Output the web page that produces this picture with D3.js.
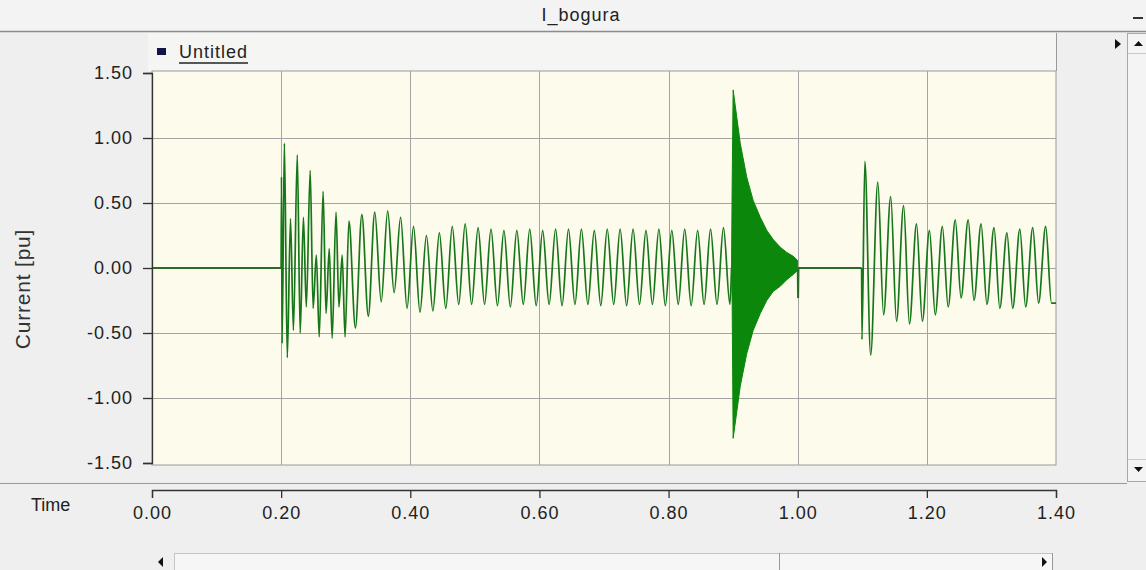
<!DOCTYPE html>
<html>
<head>
<meta charset="utf-8">
<script src="https://cdn.jsdelivr.net/npm/d3@7"></script>
<style>
  body { margin: 0; background: #f0f0f0; overflow: hidden; }
  svg { display: block; font-family: "Liberation Sans", Arial, sans-serif; }
</style>
</head>
<body>
<svg width="1146" height="570"></svg>
<script>
// texts
var chartTitle = 'I_bogura';
var seriesName = 'Untitled';
var yLabel = 'Current [pu]';
var xLabel = 'Time';
var xTicks = [0, 0.2, 0.4, 0.6, 0.8, 1.0, 1.2, 1.4];
var yTicks = [-1.5, -1.0, -0.5, 0, 0.5, 1.0, 1.5];

// 50 Hz cycles, one peak and one trough read per cycle
var cycle = 0.02;

// first fault at 0.2 s
var f1Start = 0.2;
var f1LeadT = [0.2005, 0.2015];
var f1Lead = [0.70, -0.58];
var f1FirstPeak = 0.205;
var f1Peaks = [0.96, 0.87, 0.75, 0.59, 0.43, 0.36, 0.41, 0.43, 0.44, 0.39,
  0.32, 0.25, 0.27, 0.32, 0.34, 0.31, 0.30, 0.29, 0.29, 0.30,
  0.29, 0.30, 0.30, 0.30, 0.29, 0.30, 0.30, 0.30, 0.29, 0.30,
  0.29, 0.30, 0.29, 0.30, 0.31];
var f1Troughs = [-0.48, -0.30, -0.53, -0.54, -0.53, -0.46, -0.37, -0.26, -0.19, -0.31,
  -0.34, -0.33, -0.31, -0.28, -0.28, -0.28, -0.29, -0.30, -0.28, -0.29,
  -0.28, -0.29, -0.28, -0.28, -0.29, -0.28, -0.29, -0.28, -0.28, -0.29,
  -0.28, -0.29, -0.28, -0.28, -0.28];
// extra dip + hump inside the first cycles (harmonic content)
var f1Dips = [-0.69, -0.50, -0.31, -0.35, -0.30];
var f1Humps = [0.38, 0.39, 0.10, 0.15, 0.10];

// dense burst 0.9 - 1.0 s (envelope)
var burstT = [0.8975, 0.8985, 0.900, 0.911, 0.921, 0.931, 0.942, 0.952, 0.962, 0.973, 0.983, 0.993, 0.9995];
var burstHi = [0.00, 0.66, 1.37, 0.96, 0.70, 0.52, 0.39, 0.29, 0.22, 0.16, 0.12, 0.09, 0.06];
var burstLo = [0.00, -0.28, -1.31, -0.91, -0.66, -0.48, -0.35, -0.25, -0.18, -0.14, -0.09, -0.05, -0.02];
var clearT = [1.0, 1.0006, 1.0012];
var clearI = [0, -0.23, 0];

// second fault at 1.1 s
var f2Start = 1.099;
var f2LeadT = [1.0995];
var f2Lead = [-0.55];
var f2FirstPeak = 1.104;
var f2Peaks = [0.82, 0.66, 0.55, 0.48, 0.34, 0.29, 0.32, 0.37, 0.37, 0.34, 0.31, 0.27, 0.30, 0.31, 0.32];
var f2Troughs = [-0.67, -0.36, -0.41, -0.43, -0.41, -0.36, -0.30, -0.23, -0.25, -0.28, -0.31, -0.31, -0.30, -0.27, -0.27];
var endT = 1.4;

var svg = d3.select('svg');
var W = 1146, H = 570;
var pLeft = 152, pRight = 1056, pTop = 71, pBottom = 465;

var x = d3.scaleLinear().domain([0, 1.4]).range([pLeft, pRight]);
var y = d3.scaleLinear().domain([-1.5, 1.5]).range([463, 73]);
var fmt = function (d) { return d.toFixed(2); };

// window chrome
svg.append('rect').attr('width', W).attr('height', H).attr('fill', '#efefef');
svg.append('rect').attr('width', W).attr('height', 31).attr('fill', '#f3f3f3');
svg.append('line').attr('x1', 0).attr('x2', W).attr('y1', 31.5).attr('y2', 31.5)
  .attr('stroke', '#8c8c8c').attr('stroke-width', 1.5);
svg.append('text').attr('x', 581).attr('y', 21).attr('text-anchor', 'middle')
  .attr('font-size', 18).attr('letter-spacing', 1).attr('fill', '#222').text(chartTitle);
svg.append('line').attr('x1', 1133).attr('x2', 1143).attr('y1', 18).attr('y2', 18)
  .attr('stroke', '#333').attr('stroke-width', 2);

// legend strip
svg.append('rect').attr('x', 148).attr('y', 33).attr('width', pRight - 148).attr('height', pTop - 33)
  .attr('fill', '#f5f5f4');
svg.append('line').attr('x1', pRight + 0.5).attr('x2', pRight + 0.5).attr('y1', 33).attr('y2', pTop)
  .attr('stroke', '#9a9a9a');
svg.append('rect').attr('x', 157).attr('y', 48).attr('width', 9).attr('height', 7).attr('fill', '#14144a');
svg.append('text').attr('x', 179).attr('y', 58).attr('font-size', 18).attr('letter-spacing', 1)
  .attr('fill', '#222').text(seriesName);
svg.append('line').attr('x1', 179).attr('x2', 248).attr('y1', 63).attr('y2', 63)
  .attr('stroke', '#222').attr('stroke-width', 1.5);

// right side controls
svg.append('path').attr('d', 'M1115,39 L1121,44 L1115,49 Z').attr('fill', '#111');
svg.append('rect').attr('x', 1127.5).attr('y', 33.5).attr('width', 20).attr('height', 448)
  .attr('fill', '#f4f4f4').attr('stroke', '#a8a8a8');
svg.append('line').attr('x1', 1128).attr('x2', 1146).attr('y1', 53.5).attr('y2', 53.5).attr('stroke', '#c8c8c8');
svg.append('line').attr('x1', 1128).attr('x2', 1146).attr('y1', 459.5).attr('y2', 459.5).attr('stroke', '#c8c8c8');
svg.append('path').attr('d', 'M1134,46 L1143,46 L1138.5,41 Z').attr('fill', '#111');
svg.append('path').attr('d', 'M1134,467 L1143,467 L1138.5,472 Z').attr('fill', '#111');

// plot area
svg.append('rect').attr('x', pLeft).attr('y', pTop).attr('width', pRight - pLeft).attr('height', pBottom - pTop)
  .attr('fill', '#fcfbec').attr('stroke', '#9a9a9a');

var grid = svg.append('g').attr('stroke', '#a4a4a4').attr('stroke-width', 1);
grid.selectAll('.gy').data(yTicks.slice(1, -1)).enter().append('line')
  .attr('x1', pLeft).attr('x2', pRight)
  .attr('y1', function (d) { return Math.round(y(d)) + 0.5; })
  .attr('y2', function (d) { return Math.round(y(d)) + 0.5; });
grid.selectAll('.gx').data(xTicks.slice(1, -1)).enter().append('line')
  .attr('y1', pTop).attr('y2', pBottom)
  .attr('x1', function (d) { return Math.round(x(d)) + 0.5; })
  .attr('x2', function (d) { return Math.round(x(d)) + 0.5; });

// series points (peaks and troughs only)
var wave1 = [[f1Start, 0]];
f1LeadT.forEach(function (t, i) { wave1.push([t, f1Lead[i]]); });
f1Peaks.forEach(function (p, k) {
  var t = f1FirstPeak + k * cycle;
  wave1.push([t, p]);
  if (k < f1Dips.length) {
    wave1.push([t + 0.0045, f1Dips[k]]);
    wave1.push([t + 0.0095, f1Humps[k]]);
    wave1.push([t + 0.014, f1Troughs[k]]);
  } else {
    wave1.push([t + cycle / 2, f1Troughs[k]]);
  }
});
wave1.push([burstT[0], 0]);

var wave2 = [[f2Start, 0]];
f2LeadT.forEach(function (t, i) { wave2.push([t, f2Lead[i]]); });
f2Peaks.forEach(function (p, k) {
  var t = f2FirstPeak + k * cycle;
  wave2.push([t, p]);
  wave2.push([t + cycle / 2 - 0.001, f2Troughs[k]]);
});
wave2.push([endT, f2Troughs[f2Troughs.length - 1]]);

var flat = [[[0, 0], [f1Start, 0]], [[burstT[burstT.length - 1], 0], [clearT[0], 0]]];
var clearPts = clearT.map(function (t, i) { return [t, clearI[i]]; });
clearPts.push([f2Start, 0]);

svg.append('clipPath').attr('id', 'clip').append('rect')
  .attr('x', pLeft).attr('y', pTop).attr('width', pRight - pLeft + 1).attr('height', pBottom - pTop);
var plot = svg.append('g').attr('clip-path', 'url(#clip)');

var line = d3.line().x(function (d) { return x(d[0]); }).y(function (d) { return y(d[1]); });
var smooth = d3.line().curve(d3.curveMonotoneX)
  .x(function (d) { return x(d[0]); }).y(function (d) { return y(d[1]); });
var area = d3.area()
  .x(function (d, i) { return x(burstT[i]); })
  .y0(function (d, i) { return y(burstLo[i]); })
  .y1(function (d, i) { return y(burstHi[i]); });

plot.selectAll('.flat').data(flat.concat([clearPts])).enter().append('path')
  .attr('d', line).attr('fill', 'none')
  .attr('stroke', '#2b6a2b').attr('stroke-width', 2);
plot.selectAll('.wave').data([wave1, wave2]).enter().append('path')
  .attr('d', smooth).attr('fill', 'none')
  .attr('stroke', '#17761a').attr('stroke-width', 1.7);
plot.append('path').datum(burstT).attr('d', area).attr('fill', '#0b870b')
  .attr('stroke', '#0b870b').attr('stroke-width', 1);

// axes
var yAxis = svg.append('g').attr('transform', 'translate(' + pLeft + ',0)')
  .call(d3.axisLeft(y).tickValues(yTicks).tickSize(9).tickPadding(10).tickFormat(fmt));
yAxis.selectAll('path, line').attr('stroke', '#333').attr('stroke-width', 1.3);
yAxis.selectAll('text').attr('font-size', 18).attr('letter-spacing', 1).attr('fill', '#222')
  .attr('font-family', '"Liberation Sans", Arial, sans-serif');

svg.append('line').attr('x1', 0).attr('x2', 1127).attr('y1', 483.5).attr('y2', 483.5).attr('stroke', '#9a9a9a');

var xAxis = svg.append('g').attr('transform', 'translate(0,490)')
  .call(d3.axisBottom(x).tickValues(xTicks).tickSize(8).tickPadding(8).tickFormat(fmt));
xAxis.selectAll('path, line').attr('stroke', '#333').attr('stroke-width', 1.3);
xAxis.selectAll('text').attr('font-size', 18).attr('letter-spacing', 1).attr('fill', '#222')
  .attr('font-family', '"Liberation Sans", Arial, sans-serif');

svg.append('text').attr('x', 31).attr('y', 511).attr('font-size', 18).attr('fill', '#222').text(xLabel);
svg.append('text').attr('transform', 'translate(30,289) rotate(-90)').attr('text-anchor', 'middle')
  .attr('font-size', 21).attr('letter-spacing', 0.8).attr('fill', '#333').text(yLabel);

// bottom scrollbar
svg.append('rect').attr('x', 174.5).attr('y', 553.5).attr('width', 878).attr('height', 20)
  .attr('fill', '#f6f6f6').attr('stroke', '#c4c4c4');
svg.append('line').attr('x1', 779.5).attr('x2', 779.5).attr('y1', 553).attr('y2', 570).attr('stroke', '#999');
svg.append('line').attr('x1', 1052.5).attr('x2', 1052.5).attr('y1', 553).attr('y2', 570).attr('stroke', '#999');
svg.append('path').attr('d', 'M163,557 L158,562 L163,567 Z').attr('fill', '#111');
svg.append('path').attr('d', 'M1042,557 L1047,562 L1042,567 Z').attr('fill', '#111');
</script>
</body>
</html>
